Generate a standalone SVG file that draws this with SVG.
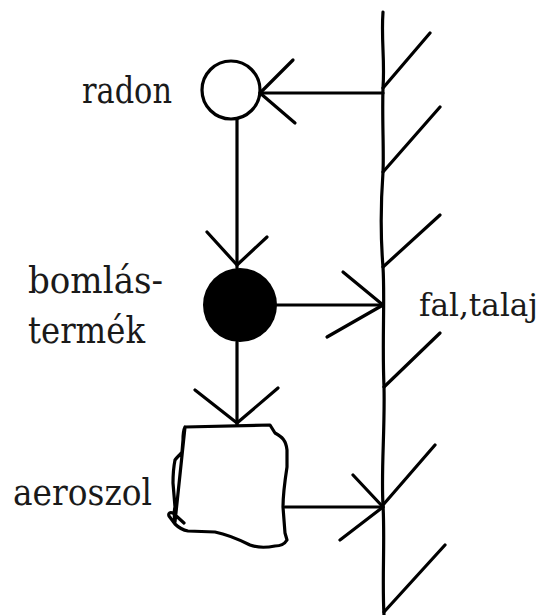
<svg xmlns="http://www.w3.org/2000/svg" width="547" height="615" viewBox="0 0 547 615">
<style>
.ln{fill:none;stroke:#000;stroke-width:3.2;stroke-linecap:round;stroke-linejoin:round}
.lbl{font-family:"DejaVu Serif","Liberation Serif",serif;font-size:38px;fill:#1a1a1a}
</style>
<rect width="547" height="615" fill="#fff"/>
<g id="wall">
<path class="ln" d="M383,12 C381,40 385,60 383,88 C382,120 384,150 383,172 C381,200 380,230 383,267 C385,300 382,340 384,387 C385,430 381,470 383,505 C385,540 382,580 384,615"/>
<path class="ln" d="M383,88 L430,33 M383,172 L440,107 M383,267 L440,215 M384,387 L440,333 M383,505 L435,445 M384,612 L445,545"/>
<text class="lbl" x="419" y="316" style="font-size:31px" textLength="119" lengthAdjust="spacingAndGlyphs">fal,talaj</text>
</g>
<g id="radon">
<circle class="ln" cx="231" cy="90" r="29"/>
<text class="lbl" x="82" y="103" textLength="90" lengthAdjust="spacingAndGlyphs">radon</text>
</g>
<g id="bomlastermek">
<circle cx="240" cy="305" r="37" fill="#000"/>
<text class="lbl" x="28" y="293" textLength="135" lengthAdjust="spacingAndGlyphs">bomlás-</text>
<text class="lbl" x="28" y="343" textLength="117" lengthAdjust="spacingAndGlyphs">termék</text>
</g>
<g id="aeroszol">
<path class="ln" d="M185,427 L270,425 L275,433 C282,437 286,440 287,450 L287,467 C285,480 283,495 283,507 L285,533 L287,540 C284,545 280,546 275,546 C265,548 258,548 250,545 C240,540 230,535 215,532 L188,531 C182,530 178,527 175,524 L169,516 C168,513 170,512 173,513 L184,523 M175,522 C174,516 174,511 175,507 L173,483 C173,472 174,465 175,460 C177,457 180,455 182,452 L183,440 C183,433 184,429 185,427 Z"/>
<text class="lbl" x="13" y="505" textLength="139" lengthAdjust="spacingAndGlyphs">aeroszol</text>
</g>
<g id="connectors">
<path class="ln" d="M383,93 L260,93"/>
<path class="ln" d="M293,60 L260,93 L295,123"/>
<path class="ln" d="M237,119 L237,268"/>
<path class="ln" d="M207,232 L237,265 L267,237"/>
<path class="ln" d="M277,305 L383,305"/>
<path class="ln" d="M343,272 L383,305 L327,337"/>
<path class="ln" d="M237,342 L237,425"/>
<path class="ln" d="M195,390 L237,423 L278,388"/>
<path class="ln" d="M285,507 L383,507"/>
<path class="ln" d="M353,475 L383,507 L340,540"/>
</g>
</svg>
